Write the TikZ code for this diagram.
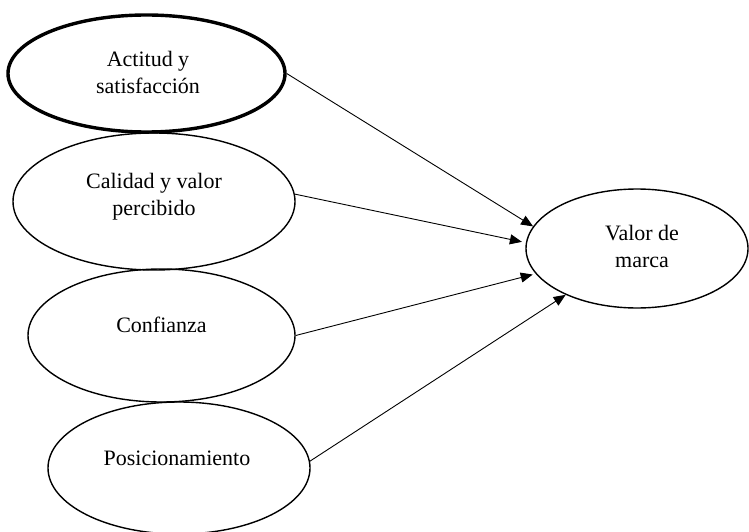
\documentclass[tikz,border=0pt]{standalone}
\usepackage{fontspec}
\setmainfont{Liberation Serif}
\usetikzlibrary{shapes.geometric,arrows.meta}
\begin{document}
\begin{tikzpicture}[x=1pt,y=-1pt,
  oval/.style={draw=black, ellipse, line width=1.4pt, inner sep=0pt},
  thickoval/.style={oval, line width=3.4pt},
  lbl/.style={align=center, font=\fontsize{22}{27}\selectfont, inner sep=0pt},
  conn/.style={line width=0.9pt, -{Triangle[length=12pt,width=10pt]}}]
\useasboundingbox (0,0) rectangle (749,532);
\fill[white] (0,0) rectangle (749,532);
% ellipses
\node[thickoval, minimum width=277pt, minimum height=117pt] (e1) at (146.5,73.5) {};
\node[oval, minimum width=282pt, minimum height=137pt] (e2) at (154,201.5) {};
\node[oval, minimum width=267pt, minimum height=133pt] (e3) at (161.5,335.5) {};
\node[oval, minimum width=262pt, minimum height=132pt] (e4) at (179,468) {};
\node[oval, minimum width=222pt, minimum height=119pt] (v) at (637,248.5) {};
% labels
\node[lbl] (t1) at (148,72) {Actitud y\\satisfacción};
\node[lbl] (t2) at (154,197) {Calidad y valor\\percibido};
\node[lbl] (t3) at (161.5,325) {Confianza};
\node[lbl] (t4) at (177,458) {Posicionamiento};
\node[lbl] (t5) at (642,246) {Valor de\\marca};
% connectors
\draw[conn] (e1.east) -- (v.168.4);
\draw[conn, shorten >=4pt] (e2.3) -- (v.177);
\draw[conn, shorten >=3pt] (e3.east) -- (v.194.6);
\draw[conn] (e4.3) -- (v.213);
\end{tikzpicture}
\end{document}
